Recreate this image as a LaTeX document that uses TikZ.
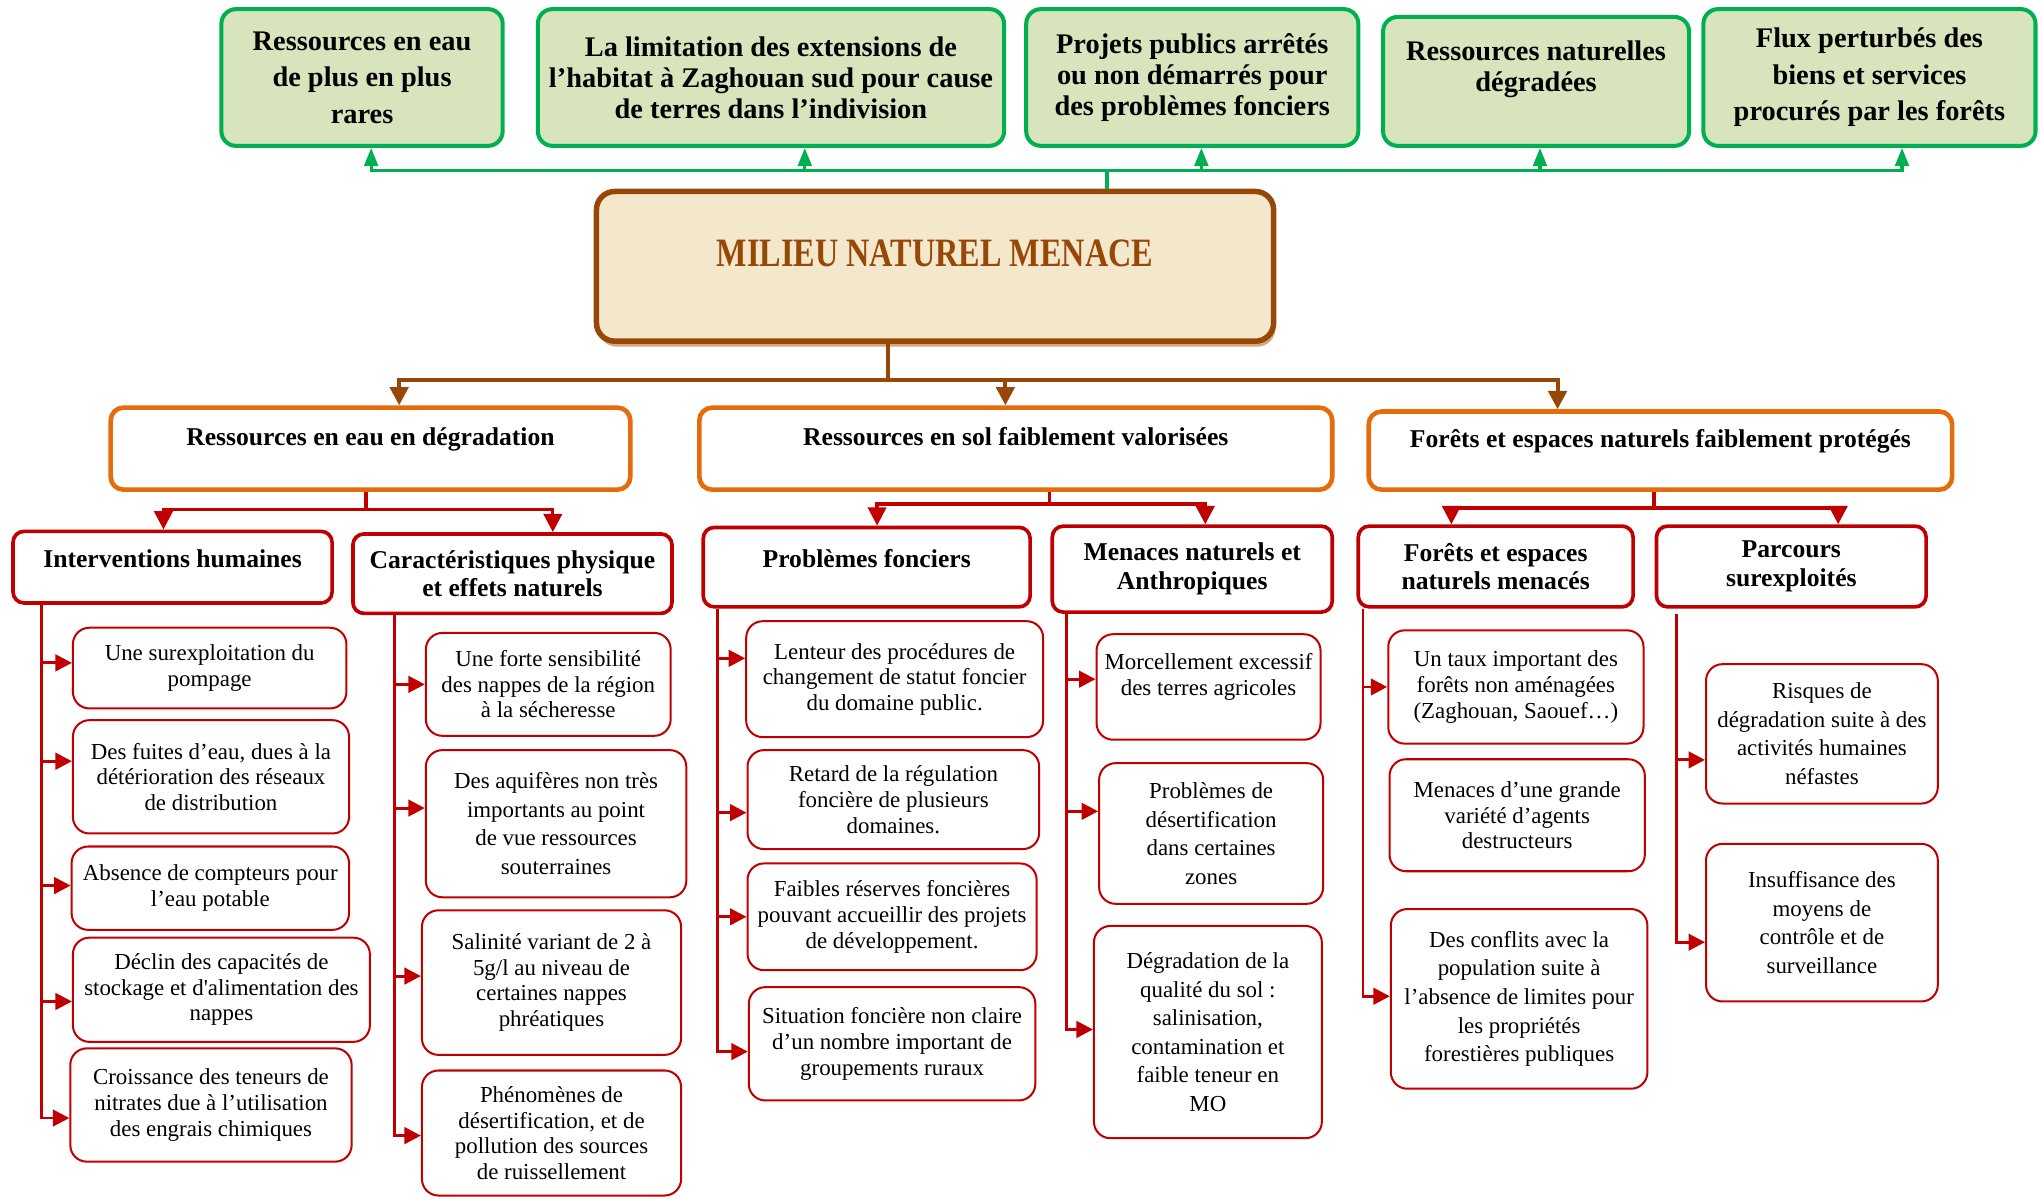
\documentclass[tikz,border=0pt]{standalone}
\usepackage{fontspec}
\setmainfont{Liberation Serif}
\newfontfamily\titrefont[FakeStretch=0.8]{Liberation Serif}
\usepackage{xcolor}
\usepackage{tikz}
\usetikzlibrary{positioning,arrows.meta,calc,shadows}
\definecolor{vertbord}{RGB}{0,176,80}
\definecolor{vertfond}{RGB}{216,228,188}
\definecolor{brun}{RGB}{152,72,6}
\definecolor{parchemin}{RGB}{243,231,204}
\definecolor{ombre}{RGB}{214,168,128}
\definecolor{orangebord}{RGB}{228,108,10}
\definecolor{rouge}{RGB}{192,0,0}
\newcommand{\police}[2]{\fontsize{#1}{#2}\selectfont}

\begin{document}
\begin{tikzpicture}[x=0.025cm,y=-0.025cm,
    wh/.style 2 args={minimum width=#1*0.025cm,minimum height=#2*0.025cm},
    effet/.style={rectangle,rounded corners=8pt,draw=vertbord,line width=2.2pt,fill=vertfond,
                  align=center,inner sep=2pt,font=\police{15.5pt}{17pt}\bfseries},
    espace/.style={font=\police{15.5pt}{20pt}\bfseries},
    titre/.style={rectangle,rounded corners=10pt,draw=brun,line width=3pt,fill=parchemin,
                  drop shadow={shadow xshift=1pt,shadow yshift=-3pt,fill=ombre,opacity=1},
                  text=brun,font=\titrefont\police{22pt}{24pt}\bfseries,text height=15pt,text depth=15pt},
    theme/.style={rectangle,rounded corners=7pt,draw=orangebord,line width=2.5pt,align=center,
                  font=\police{14pt}{16pt}\bfseries,text height=10pt,text depth=13pt},
    sousth/.style={rectangle,rounded corners=6pt,draw=rouge,line width=2pt,align=center,
                   inner sep=2pt,font=\police{14pt}{15.6pt}\bfseries},
    haut/.style={text height=10pt,text depth=10pt},
    feuille/.style={rectangle,rounded corners=9pt,draw=rouge,line width=1.1pt,align=center,
                    inner sep=2pt,font=\police{12.5pt}{14pt}},
    aere/.style={font=\police{12.5pt}{15.6pt}},
    lien/.style={line width=1.8pt},
    flvert/.style={lien,draw=vertbord,-{Triangle[length=10pt,width=7.5pt]}},
    flbrun/.style={line width=2.2pt,draw=brun,-{Triangle[length=10pt,width=10pt]}},
    flrouge/.style={lien,draw=rouge,-{Triangle[length=10pt,width=10pt]}},
    flfeuille/.style={line width=1.6pt,draw=rouge,-{Triangle[length=9pt,width=9pt]}}
]
\useasboundingbox (0,0) rectangle (1568,921);

% effets
\node[effet,espace,wh={216}{105}] (t1) at (278,59.5)    {Ressources en eau\\de plus en plus\\rares};
\node[effet,wh={358}{105}]        (t2) at (592,59.5)    {La limitation des extensions de\\l'habitat à Zaghouan sud pour cause\\de terres dans l'indivision};
\node[effet,wh={255}{105}]        (t3) at (915.5,59.5)  {Projets publics arrêtés\\ou non démarrés pour\\des problèmes fonciers};
\node[effet,wh={235}{99}]         (t4) at (1179.5,62.5) {Ressources naturelles\\dégradées\\\mbox{}};
\node[effet,espace,wh={255}{105}] (t5) at (1435.5,59.5) {Flux perturbés des\\biens et services\\procurés par les forêts};

\node[titre,wh={520}{115}] (milieu) at (718,204.5) {MILIEU NATUREL MENACE};

% themes
\node[theme,wh={399}{63}] (o1) at (284.5,344.5) {Ressources en eau en dégradation};
\node[theme,wh={486}{63}] (o2) at (780,344.5)   {Ressources en sol faiblement valorisées};
\node[theme,wh={448}{60}] (o3) at (1275,346)    {Forêts et espaces naturels faiblement protégés};

\node[sousth,haut,wh={245}{55}] (c1) at (132.5,435.5) {Interventions humaines};
\node[sousth,wh={245}{61}]      (c2) at (393.5,440.5) {Caractéristiques physique\\et effets naturels};
\node[sousth,haut,wh={251}{61}] (c3) at (665.5,435.5) {Problèmes fonciers};
\node[sousth,wh={215}{66}]      (c4) at (915.5,437)   {Menaces naturels et\\Anthropiques};
\node[sousth,wh={211}{62}]      (c5) at (1148.5,435)  {Forêts et espaces\\naturels menacés};
\node[sousth,wh={207}{62}]      (c6) at (1375.5,435)  {Parcours\\surexploités};

% feuilles
\node[feuille,wh={210}{62}] (a1) at (161,513)    {Une surexploitation du\\pompage};
\node[feuille,wh={212}{87}] (a2) at (162,596.5)  {Des fuites d’eau, dues à la\\détérioration des réseaux\\de distribution};
\node[feuille,wh={213}{64}] (a3) at (161.5,682)  {Absence de compteurs pour\\l’eau potable};
\node[feuille,wh={228}{80}] (a4) at (170,760)    {Déclin des capacités de\\stockage et d\textquotesingle alimentation des\\nappes};
\node[feuille,wh={216}{87}] (a5) at (162,848.5)  {Croissance des teneurs de\\nitrates due à l’utilisation\\des engrais chimiques};

\node[feuille,wh={188}{79}]       (b1) at (421,525.5)   {Une forte sensibilité\\des nappes de la région\\à la sécheresse};
\node[feuille,aere,wh={200}{113}] (b2) at (427,632.5)   {Des aquifères non très\\importants au point\\de vue ressources\\souterraines};
\node[feuille,wh={199}{111}]      (b3) at (423.5,754.5) {Salinité variant de 2 à\\5g/l au niveau de\\certaines nappes\\phréatiques};
\node[feuille,wh={199}{96}]       (b4) at (423.5,870)   {Phénomènes de\\désertification, et de\\pollution des sources\\de ruissellement};

\node[feuille,wh={228}{89}] (d1) at (687,521.5) {Lenteur des procédures de\\changement de statut foncier\\du domaine public.};
\node[feuille,wh={224}{76}] (d2) at (686,614)   {Retard de la régulation\\foncière de plusieurs\\domaines.};
\node[feuille,wh={222}{82}] (d3) at (685,704)   {Faibles réserves foncières\\pouvant accueillir des projets\\de développement.};
\node[feuille,wh={220}{87}] (d4) at (685,801.5) {Situation foncière non claire\\d’un nombre important de\\groupements ruraux};

\node[feuille,wh={172}{81}]       (e1) at (928,527.5)   {Morcellement excessif\\des terres agricoles\\\mbox{}};
\node[feuille,aere,wh={172}{108}] (e2) at (930,640)     {Problèmes de\\désertification\\dans certaines\\zones};
\node[feuille,aere,wh={175}{163}] (e3) at (927.5,792.5) {Dégradation de la\\qualité du sol :\\salinisation,\\contamination et\\faible teneur en\\MO};

\node[feuille,wh={196}{87}]       (f1) at (1164,527.5) {Un taux important des\\forêts non aménagées\\(Zaghouan, Saouef…)};
\node[feuille,wh={196}{86}]       (f2) at (1165,626)   {Menaces d’une grande\\variété d’agents\\destructeurs};
\node[feuille,aere,wh={197}{138}] (f3) at (1166.5,767) {Des conflits avec la\\population suite à\\l’absence de limites pour\\les propriétés\\forestières publiques};

\node[feuille,aere,wh={178}{107}] (g1) at (1399,563.5) {Risques de\\dégradation suite à des\\activités humaines\\néfastes};
\node[feuille,aere,wh={178}{121}] (g2) at (1399,708.5) {Insuffisance des\\moyens de\\contrôle et de\\surveillance};

% liaisons
\coordinate (gbus) at (850,131);
\draw[lien,draw=vertbord] (milieu.north -| gbus) -- (gbus);
\foreach \n/\dx in {t1/7,t2/26,t3/7,t4/3,t5/25}
  \draw[flvert] (gbus) -| ($(\n.south)+(\dx,0)$);

\coordinate (bbus) at (682,292);
\draw[line width=2.2pt,draw=brun] (milieu.south -| bbus) -- (bbus);
\foreach \n/\dx in {o1/22,o2/-8,o3/-79}
  \draw[flbrun] (bbus) -| ($(\n.north)+(\dx,0)$);

\coordinate (rb1) at (281,391);
\coordinate (rb2) at (806,387);
\coordinate (rb3) at (1270,390);
\draw[lien,draw=rouge] (o1.south -| rb1) -- (rb1);
\draw[lien,draw=rouge] (o2.south -| rb2) -- (rb2);
\draw[lien,draw=rouge] (o3.south -| rb3) -- (rb3);
\draw[flrouge] (rb1) -| ($(c1.north)+(-7,0)$);
\draw[flrouge] (rb1) -| ($(c2.north)+(31,0)$);
\draw[flrouge] (rb2) -| ($(c3.north)+(8,0)$);
\draw[flrouge] (rb2) -| ($(c4.north)+(10,0)$);
\draw[flrouge] (rb3) -| ($(c5.north)+(-34,0)$);
\draw[flrouge] (rb3) -| ($(c6.north)+(36,0)$);

\foreach \f/\dy in {a1/-4,a2/-12,a3/-2,a4/9,a5/10}
  \draw[flfeuille] ($(c1.south west)+(23,0)$) |- ($(\f.west)+(0,\dy)$);
\foreach \f/\dy in {b1/0,b2/-12,b3/-5,b4/2}
  \draw[flfeuille] ($(c2.south west)+(33,0)$) |- ($(\f.west)+(0,\dy)$);
\foreach \f/\dy in {d1/-16,d2/10,d3/0,d4/6}
  \draw[flfeuille] ($(c3.south west)+(12,0)$) |- ($(\f.west)+(0,\dy)$);
\foreach \f/\dy in {e1/-6,e2/-17,e3/-2}
  \draw[flfeuille] ($(c4.south west)+(12,0)$) |- ($(\f.west)+(0,\dy)$);
\foreach \f/\dy in {f1/0,f3/-2}
  \draw[flfeuille] ($(c5.south west)+(5,0)$) |- ($(\f.west)+(0,\dy)$);
\foreach \f/\dy in {g1/20,g2/15}
  \draw[flfeuille] ($(c6.south west)+(17,4)$) |- ($(\f.west)+(0,\dy)$);
\end{tikzpicture}
\end{document}
